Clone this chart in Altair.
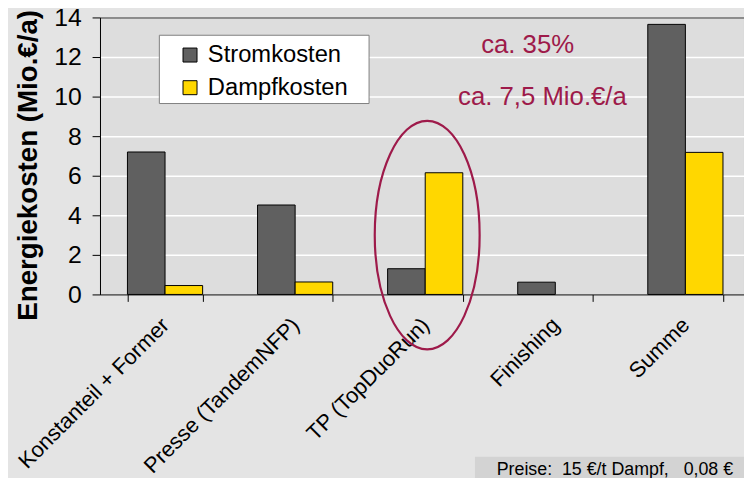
import altair as alt
import pandas as pd

categories = ["Konstanteil + Former", "Presse (TandemNFP)", "TP (TopDuoRun)", "Finishing", "Summe"]
strom = [7.2, 4.52, 1.3, 0.62, 13.65]
dampf = [0.45, 0.63, 6.15, None, 7.18]
series = ["Stromkosten", "Dampfkosten"]
colors = ["#606060", "#FFD700"]
y_ticks = [0, 2, 4, 6, 8, 10, 12, 14]

rows = []
for c, s, d in zip(categories, strom, dampf):
    rows.append({"cat": c, "serie": "Stromkosten", "wert": s})
    if d is not None:
        rows.append({"cat": c, "serie": "Dampfkosten", "wert": d})
df = pd.DataFrame(rows)

ann_text = ["ca. 35%", "ca. 7,5 Mio.€/a"]
ann_y = [12.6, 9.95]
ann_dx = [-28, -13]
ell = pd.DataFrame([{"cat": "TP (TopDuoRun)", "wert": 3.0}])
footer_text = "Preise:\u00a0\u00a015 €/t Dampf,\u00a0\u00a0\u00a00,08 €"

FONT = "Liberation Sans"
crimson = "#9E1A4A"
YTITLE = "Energiekosten (Mio.€/a)"

xscale = alt.Scale(domain=categories, range=[0, 657.5], paddingInner=0.422, paddingOuter=0.211)
yscale = alt.Scale(domain=[0, 14], nice=False)

xaxis = alt.Axis(labelAngle=-45, labelAlign="right", labelBaseline="middle",
                 labelFontSize=22, labelFont=FONT, labelColor="black",
                 labelPadding=20, tickSize=7, tickColor="black",
                 domainColor="black", tickBand="extent", labelLimit=400,
                 labelOverlap=False, grid=False)
yaxis = alt.Axis(values=y_ticks, labelFontSize=25, labelFont=FONT,
                 labelColor="black", tickSize=8, tickColor="black",
                 domainColor="black", labelPadding=11, labelOverlap=False,
                 labelFlush=False,
                 titleFontSize=28, titleFont=FONT, titleFontWeight="bold",
                 titleColor="black", titlePadding=11, titleY=149,
                 grid=True, gridWidth=1.5,
                 gridColor=alt.condition("datum.value >= 14", alt.value("#808080"), alt.value("white")))


def X():
    return alt.X("cat:N", scale=xscale, sort=categories, title=None, axis=xaxis)


def Y():
    return alt.Y("wert:Q", scale=yscale, title=YTITLE, axis=yaxis)


legend_box = alt.Chart(pd.DataFrame([{"a": 1}])).mark_rect(
    fill="white", stroke="#808080", strokeWidth=1
).encode(
    x=alt.value(60), x2=alt.value(272), y=alt.value(18), y2=alt.value(87)
)

bars = alt.Chart(df).mark_bar(stroke="black", strokeWidth=1).encode(
    x=X(),
    xOffset=alt.XOffset("serie:N", scale=alt.Scale(domain=series)),
    y=Y(),
    color=alt.Color("serie:N", scale=alt.Scale(domain=series, range=colors),
                    legend=alt.Legend(title=None, orient="none", legendX=79, legendY=26,
                                      symbolType="square", symbolSize=200,
                                      symbolStrokeColor="black", symbolStrokeWidth=1,
                                      labelFontSize=24, labelFont=FONT, labelColor="black",
                                      labelOffset=6, rowPadding=9, padding=0)),
)

ann_layers = []
for t, yv, dx in zip(ann_text, ann_y, ann_dx):
    ann_layers.append(
        alt.Chart(pd.DataFrame([{"cat": "Finishing", "wert": yv, "text": t}])).mark_text(
            font=FONT, fontSize=26, color=crimson, align="center", baseline="middle", dx=dx
        ).encode(x=X(), y=Y(), text="text:N")
    )

ellipse_path = ("M0,-1 C0.2535,-1 0.459,-0.5523 0.459,0 C0.459,0.5523 0.2535,1 0,1 "
                "C-0.2535,1 -0.459,0.5523 -0.459,0 C-0.459,-0.5523 -0.2535,-1 0,-1 Z")
ellipse = alt.Chart(ell).mark_point(shape=ellipse_path, size=53361, filled=False,
                                    stroke=crimson, strokeWidth=2.2, opacity=1,
                                    xOffset=2).encode(
    x=X(), y=Y())

footer_box = alt.Chart(pd.DataFrame([{"a": 1}])).mark_rect(fill="#d3d3d3").encode(
    x=alt.value(379), x2=alt.value(660), y=alt.value(444), y2=alt.value(470))
footer = alt.Chart(pd.DataFrame([{"t": footer_text}])).mark_text(
    font=FONT, fontSize=18, color="black", align="left", baseline="middle"
).encode(x=alt.value(401), y=alt.value(458), text="t:N")

chart = alt.layer(legend_box, bars, ellipse, *ann_layers, footer_box, footer).properties(
    width=651, height=280,
    autosize=alt.AutoSizeParams(type="none"),
    padding={"left": 93, "top": 7, "right": 0, "bottom": 183},
    background="#e4e4e4",
).configure_view(fill="#dddddd", stroke="#808080", strokeWidth=1).configure_axis(
    domainWidth=1
)

chart.save("out.html", embed_options={"renderer": "svg", "actions": False})
